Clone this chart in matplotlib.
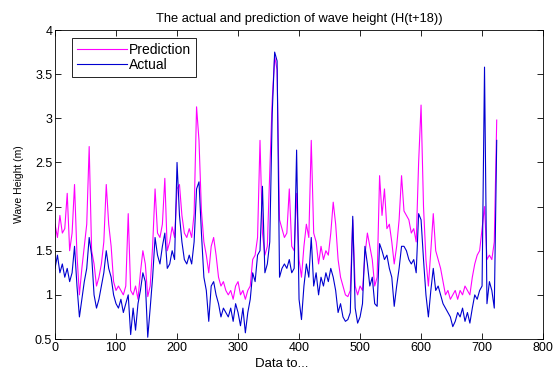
import numpy as np
import matplotlib
matplotlib.use("Agg")
import matplotlib.pyplot as plt
from matplotlib.ticker import FuncFormatter

# sample index (every 4th point)
idx = np.arange(0, 725, 4)

prediction = [
    1.80, 1.65, 1.90, 1.70, 1.75, 2.15, 1.50, 1.70, 2.25, 1.45,
    1.00, 1.30, 1.55, 1.80, 2.68, 1.50, 1.35, 1.10, 1.20, 1.35,
    1.60, 2.25, 1.80, 1.55, 1.15, 1.05, 1.10, 1.05, 1.00, 1.10,
    1.92, 1.05, 1.00, 1.10, 0.95, 1.25, 1.50, 1.35, 0.98, 1.10,
    1.55, 2.20, 1.70, 1.65, 1.80, 2.32, 1.50, 1.60, 1.77, 1.65,
    2.20, 2.25, 1.90, 1.70, 1.65, 1.75, 1.65, 1.92, 3.13, 2.75,
    1.95, 1.60, 1.45, 1.25, 1.55, 1.65, 1.45, 1.20, 1.10, 1.15,
    1.05, 1.00, 1.05, 0.95, 1.10, 1.15, 1.00, 1.05, 0.95, 1.05,
    1.10, 1.40, 1.45, 1.65, 2.75, 1.70, 1.45, 1.55, 2.40, 3.20,
    3.70, 3.55, 1.85, 1.75, 1.65, 1.70, 2.20, 1.55, 1.50, 2.15,
    1.40, 1.20, 1.55, 1.80, 1.65, 2.75, 1.70, 1.60, 1.35, 1.55,
    1.40, 1.50, 1.45, 1.70, 2.05, 1.80, 1.40, 1.20, 1.10, 1.00,
    0.98, 1.05, 1.85, 1.10, 1.00, 1.10, 1.05, 1.45, 1.70, 1.55,
    1.40, 1.10, 1.20, 2.35, 1.90, 2.20, 1.75, 1.80, 1.60, 1.35,
    1.55, 1.85, 2.35, 1.95, 1.90, 1.85, 1.70, 1.75, 1.60, 2.50,
    3.15, 2.00, 1.40, 1.10, 1.50, 1.92, 1.50, 1.40, 1.30, 1.15,
    1.00, 1.05, 0.95, 1.00, 1.05, 0.95, 1.05, 1.00, 1.10, 1.05,
    1.00, 1.20, 1.35, 1.45, 1.50, 1.75, 2.00, 1.40, 1.45, 1.40,
    1.60, 2.98,
]

actual = [
    1.30, 1.45, 1.25, 1.35, 1.20, 1.30, 1.15, 1.25, 1.55, 1.10,
    0.75, 0.95, 1.15, 1.30, 1.65, 1.45, 1.00, 0.85, 0.95, 1.10,
    1.25, 1.50, 1.30, 1.20, 1.00, 0.90, 0.85, 0.95, 0.80, 0.90,
    1.00, 0.55, 0.85, 0.60, 0.90, 1.05, 1.25, 1.15, 0.52, 0.85,
    1.20, 1.65, 1.45, 1.35, 1.55, 1.70, 1.30, 1.35, 1.50, 1.40,
    2.50, 1.90, 1.60, 1.40, 1.35, 1.45, 1.35, 1.60, 2.20, 2.28,
    1.70, 1.20, 1.05, 0.70, 1.10, 1.15, 1.00, 0.90, 0.75, 0.85,
    0.80, 0.75, 0.85, 0.70, 0.90, 0.80, 0.65, 0.85, 0.57, 0.80,
    0.95, 1.25, 1.15, 1.45, 1.50, 2.23, 1.25, 1.35, 1.60, 3.05,
    3.75, 3.65, 1.20, 1.30, 1.35, 1.30, 1.40, 1.25, 1.30, 2.64,
    0.95, 0.72, 1.10, 1.35, 1.20, 1.65, 1.10, 1.25, 1.00, 1.20,
    1.10, 1.25, 1.15, 1.30, 1.20, 1.05, 0.80, 0.90, 0.75, 0.70,
    0.72, 0.80, 1.89, 0.85, 0.68, 0.75, 0.90, 1.55, 1.35, 1.10,
    1.20, 0.90, 0.87, 1.58, 1.50, 1.40, 1.45, 1.30, 1.20, 0.87,
    1.10, 1.30, 1.55, 1.55, 1.50, 1.40, 1.35, 1.40, 1.25, 1.92,
    1.85, 1.40, 1.00, 0.75, 1.05, 1.30, 1.05, 1.10, 1.00, 0.90,
    0.85, 0.80, 0.75, 0.64, 0.70, 0.80, 0.75, 0.85, 0.70, 0.80,
    0.68, 0.85, 1.00, 0.95, 1.05, 1.10, 3.58, 0.90, 1.15, 1.05,
    0.85, 2.75,
]

plt.rcParams["font.family"] = ["Liberation Sans", "DejaVu Sans"]
plt.rcParams["font.size"] = 8

fig = plt.figure(figsize=(5.54, 3.72), dpi=100)
ax = fig.add_axes([0.0993, 0.0887, 0.881, 0.8306])

ax.plot(idx, prediction, color="#ff00ff", lw=0.8, label="Prediction")
ax.plot(idx, actual, color="#0000d0", lw=0.8, label="Actual")

ax.set_xlim(0, 800)
ax.set_ylim(0.5, 4)
ax.set_xticks(np.arange(0, 801, 100))
ax.set_yticks(np.arange(0.5, 4.01, 0.5))
ax.yaxis.set_major_formatter(FuncFormatter(lambda v, p: "%g" % v))
ax.tick_params(direction="in", top=True, right=True, length=4, width=0.6,
               labelsize=9, pad=2)
for s in ax.spines.values():
    s.set_linewidth(0.6)

ax.set_title("The actual and prediction of wave height (H(t+18))", fontsize=9.3, pad=6)
ax.set_xlabel("Data to...", fontsize=9.5)
ax.xaxis.set_label_coords(0.465, -0.06)
ax.set_ylabel("Wave Height (m)", fontsize=7.5, labelpad=8)

leg = ax.legend(loc="upper left", bbox_to_anchor=(0.035, 0.975), borderaxespad=0,
                fontsize=10, fancybox=False, edgecolor="black", framealpha=1,
                borderpad=0.35, labelspacing=0.1, handlelength=3.6,
                handletextpad=0.15)
leg.get_frame().set_linewidth(0.6)

fig.savefig("out.png", dpi=100)
